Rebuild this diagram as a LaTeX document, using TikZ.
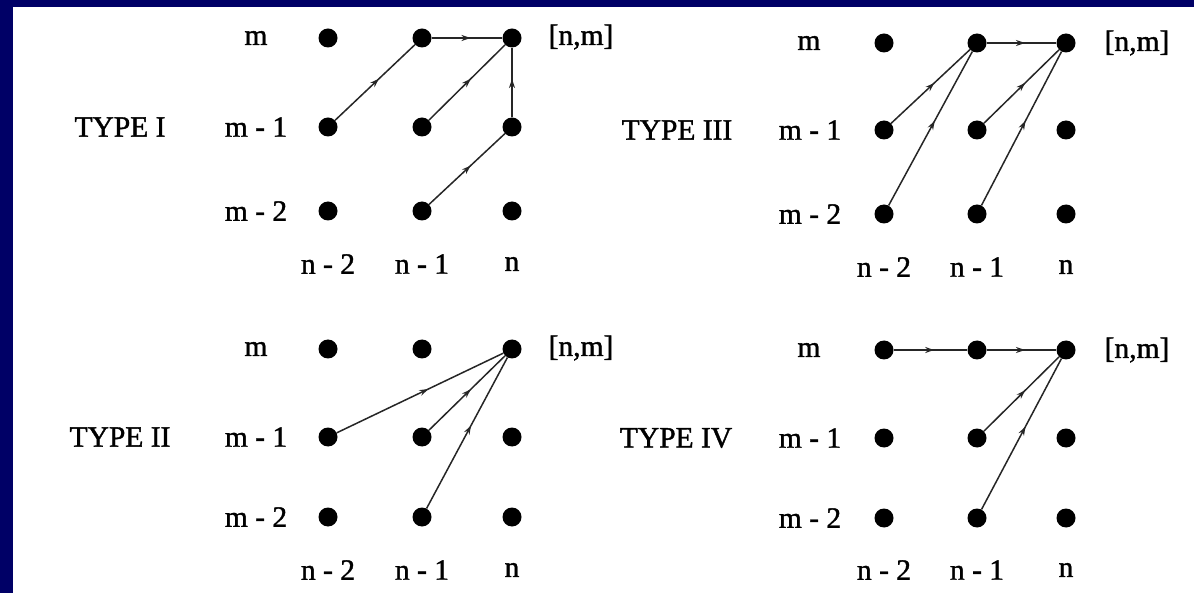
\documentclass[tikz,border=0pt]{standalone}
\usepackage{fontspec}
\setmainfont{Liberation Serif}[FakeBold=1.3]
\usetikzlibrary{arrows.meta,decorations.markings}
\definecolor{navyb}{RGB}{0,0,102}
\tikzset{
  dot/.style={circle, fill=black, inner sep=0pt, minimum size=19pt},
  lbl/.style={font=\fontsize{29.5}{31}\selectfont, inner sep=0pt},
  conn/.style={draw=black!85, line width=1.5pt, postaction=decorate,
    decoration={markings, mark=at position 0.55 with {\arrow{Stealth[length=9pt,width=6pt]}}}}
}
\begin{document}
\begin{tikzpicture}[x=1pt,y=-1pt]
\fill[navyb] (0,0) rectangle (1194,593);
\fill[white] (13,7) rectangle (1194,593);
\useasboundingbox (0,0) rectangle (1194,593);

% ---------- TYPE I ----------
\foreach \c/\x in {0/328,1/422,2/512}
  \foreach \r/\y in {0/38,1/127,2/211}
    \node[dot] (A\c\r) at (\x,\y) {};
\node[lbl] (AtI) at (120,127) {TYPE I};
\node[lbl] (Am0) at (256,38) {m};
\node[lbl] (Am1) at (256,127) {m - 1};
\node[lbl] (Am2) at (256,211) {m - 2};
\node[lbl] (An0) at (328,264) {n - 2};
\node[lbl] (An1) at (422,264) {n - 1};
\node[lbl] (An2) at (512,264) {n};
\node[lbl] (Anm) at (581,37) {[n,m]};
\draw[conn] (A01) -- (A10);
\draw[conn] (A11) -- (A20);
\draw[conn] (A12) -- (A21);
\draw[conn] (A21) -- (A20);
\draw[conn] (A10) -- (A20);

% ---------- TYPE III ----------
\foreach \c/\x in {0/884,1/977,2/1066}
  \foreach \r/\y in {0/43,1/130,2/214}
    \node[dot] (C\c\r) at (\x,\y) {};
\node[lbl] (CtI) at (677,130) {TYPE III};
\node[lbl] (Cm0) at (809,43) {m};
\node[lbl] (Cm1) at (810,130) {m - 1};
\node[lbl] (Cm2) at (810,214) {m - 2};
\node[lbl] (Cn0) at (884,267) {n - 2};
\node[lbl] (Cn1) at (977,267) {n - 1};
\node[lbl] (Cn2) at (1066,267) {n};
\node[lbl] (Cnm) at (1137,43) {[n,m]};
\draw[conn] (C01) -- (C10);
\draw[conn] (C02) -- (C10);
\draw[conn] (C10) -- (C20);
\draw[conn] (C11) -- (C20);
\draw[conn] (C12) -- (C20);

% ---------- TYPE II ----------
\foreach \c/\x in {0/328,1/422,2/512}
  \foreach \r/\y in {0/349,1/437,2/517}
    \node[dot] (B\c\r) at (\x,\y) {};
\node[lbl] (BtI) at (120,437) {TYPE II};
\node[lbl] (Bm0) at (256,349) {m};
\node[lbl] (Bm1) at (256,437) {m - 1};
\node[lbl] (Bm2) at (256,517) {m - 2};
\node[lbl] (Bn0) at (328,570) {n - 2};
\node[lbl] (Bn1) at (422,570) {n - 1};
\node[lbl] (Bn2) at (512,570) {n};
\node[lbl] (Bnm) at (581,348) {[n,m]};
\draw[conn] (B01) -- (B20);
\draw[conn] (B11) -- (B20);
\draw[conn] (B12) -- (B20);

% ---------- TYPE IV ----------
\foreach \c/\x in {0/884,1/977,2/1066}
  \foreach \r/\y in {0/350,1/438,2/518}
    \node[dot] (D\c\r) at (\x,\y) {};
\node[lbl] (DtI) at (676,438) {TYPE IV};
\node[lbl] (Dm0) at (809,350) {m};
\node[lbl] (Dm1) at (810,438) {m - 1};
\node[lbl] (Dm2) at (810,518) {m - 2};
\node[lbl] (Dn0) at (884,570) {n - 2};
\node[lbl] (Dn1) at (977,570) {n - 1};
\node[lbl] (Dn2) at (1066,570) {n};
\node[lbl] (Dnm) at (1137,350) {[n,m]};
\draw[conn] (D00) -- (D10);
\draw[conn] (D10) -- (D20);
\draw[conn] (D11) -- (D20);
\draw[conn] (D12) -- (D20);
\end{tikzpicture}
\end{document}
